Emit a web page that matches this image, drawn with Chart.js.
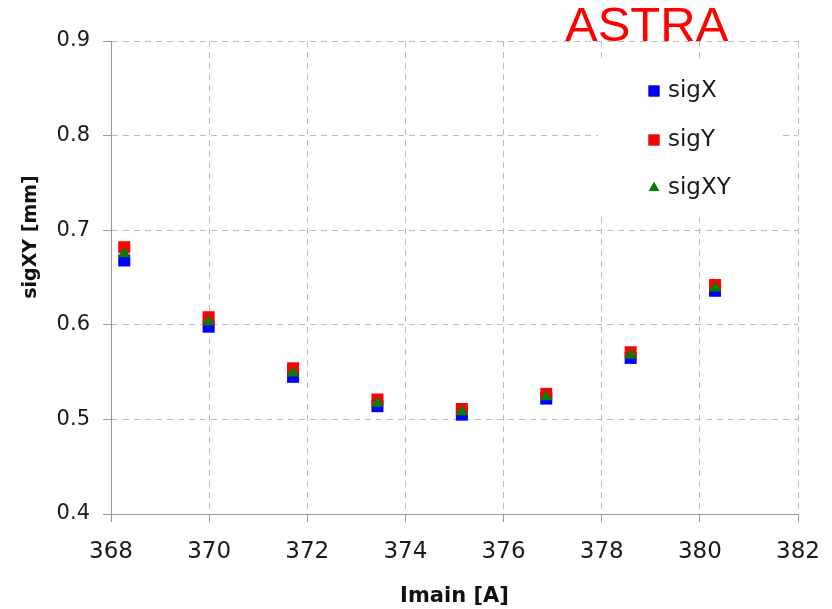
<!DOCTYPE html>
<html>
<head>
<meta charset="utf-8">
<script src="https://cdn.jsdelivr.net/npm/chart.js@4/dist/chart.umd.min.js"></script>
<style>
  html,body{margin:0;padding:0;background:#fff;}
  #wrap{position:relative;width:832px;height:609px;}
  #astra{position:absolute;left:565px;top:-4px;font:49px "Liberation Sans",Arial,sans-serif;color:#ff0000;}
</style>
</head>
<body>
<div id="wrap">
  <canvas id="c" width="832" height="609"></canvas>
  <div id="astra">ASTRA</div>
</div>
<script>
// Imain [A]
const imain = [368.27, 369.99, 371.71, 373.43, 375.15, 376.87, 378.59, 380.31];
// beam sizes [mm]
const sigX  = [0.668, 0.598, 0.545, 0.514, 0.505, 0.522, 0.565, 0.636];
const sigY  = [0.682, 0.608, 0.554, 0.521, 0.511, 0.527, 0.571, 0.642];
const sigXY = [0.675, 0.603, 0.549, 0.517, 0.508, 0.524, 0.568, 0.639];

const seriesNames = ["sigX", "sigY", "sigXY"];
const FONT = '"DejaVu Sans", Verdana, sans-serif';

function pts(ys){ return imain.map((x,i)=>({x:x, y:ys[i]})); }

// legend drawn inside plot, top right, on a white patch
const legendBox = {
  id:'legendBox',
  beforeDatasetsDraw(chart){
    const ctx = chart.ctx;
    ctx.save();
    ctx.fillStyle = '#fff';
    ctx.fillRect(598, 61, 180, 151);
    ctx.restore();
  },
  afterDraw(chart){
    const ctx = chart.ctx;
    const ds = chart.data.datasets;
    const x0 = 654, ys = [91, 140, 188];
    ctx.save();
    ds.forEach((d,i)=>{
      const style = d.pointStyle;
      Chart.helpers.drawPoint(ctx, {pointStyle:style, radius: style==='triangle'?6:7.7, borderWidth:0}, x0, ys[i]);
      ctx.fillStyle = d.backgroundColor;
      ctx.fill();
      ctx.fillStyle = '#1a1a1a';
      ctx.font = '23px ' + FONT;
      ctx.textBaseline = 'middle';
      ctx.textAlign = 'left';
      ctx.fillText(d.label, x0+14, ys[i]);
    });
    ctx.restore();
  }
};

// y axis title (sits above centre in the original)
const yTitle = {
  id:'yTitle',
  afterDraw(chart){
    const ctx = chart.ctx;
    ctx.save();
    ctx.translate(31, 237);
    ctx.rotate(-Math.PI/2);
    ctx.font = 'bold 19px ' + FONT;
    ctx.fillStyle = '#111';
    ctx.textAlign = 'center';
    ctx.textBaseline = 'middle';
    ctx.fillText('sigXY [mm]', 0, 0);
    ctx.restore();
  }
};

new Chart(document.getElementById('c'), {
  type:'scatter',
  data:{
    datasets:[
      {label:seriesNames[0], data:pts(sigX),  backgroundColor:'#0000ff', borderColor:'#0000ff', pointStyle:'rect', pointRadius:8.5, order:2},
      {label:seriesNames[1], data:pts(sigY),  backgroundColor:'#ff0000', borderColor:'#ff0000', pointStyle:'rect', pointRadius:8.5, order:1},
      {label:seriesNames[2], data:pts(sigXY), backgroundColor:'#008000', borderColor:'#008000', pointStyle:'triangle', pointRadius:7, order:0}
    ]
  },
  options:{
    responsive:false,
    animation:false,
    layout:{padding:{left:0, top:41, right:34, bottom:0}},
    plugins:{legend:{display:false}, tooltip:{enabled:false}},
    elements:{point:{borderWidth:0}},
    scales:{
      x:{
        type:'linear', min:368, max:382,
        ticks:{stepSize:2, padding:16, color:'#1a1a1a', font:{family:FONT, size:23}},
        grid:{color:'#bdbdbd', tickColor:'#999', tickLength:8, lineWidth:1},
        border:{display:true, color:'#999', dash:[6,5]},
        title:{display:true, text:'Imain [A]', color:'#111', padding:{top:4,bottom:0}, font:{family:FONT, size:21, weight:'bold'}},
        afterFit(s){ s.height = 95; s.paddingRight = 0; s.paddingLeft = 0; }
      },
      y:{
        min:0.4, max:0.9,
        ticks:{stepSize:0.1, padding:13, color:'#1a1a1a', font:{family:FONT, size:21},
               callback:v=>v.toFixed(1)},
        grid:{color:'#bdbdbd', tickColor:'#999', tickLength:8, lineWidth:1},
        border:{display:true, color:'#999', dash:[6,5]},
        afterFit(s){ s.width = 111; s.paddingTop = 0; s.paddingBottom = 0; }
      }
    }
  },
  plugins:[legendBox, yTitle]
});
</script>
</body>
</html>
